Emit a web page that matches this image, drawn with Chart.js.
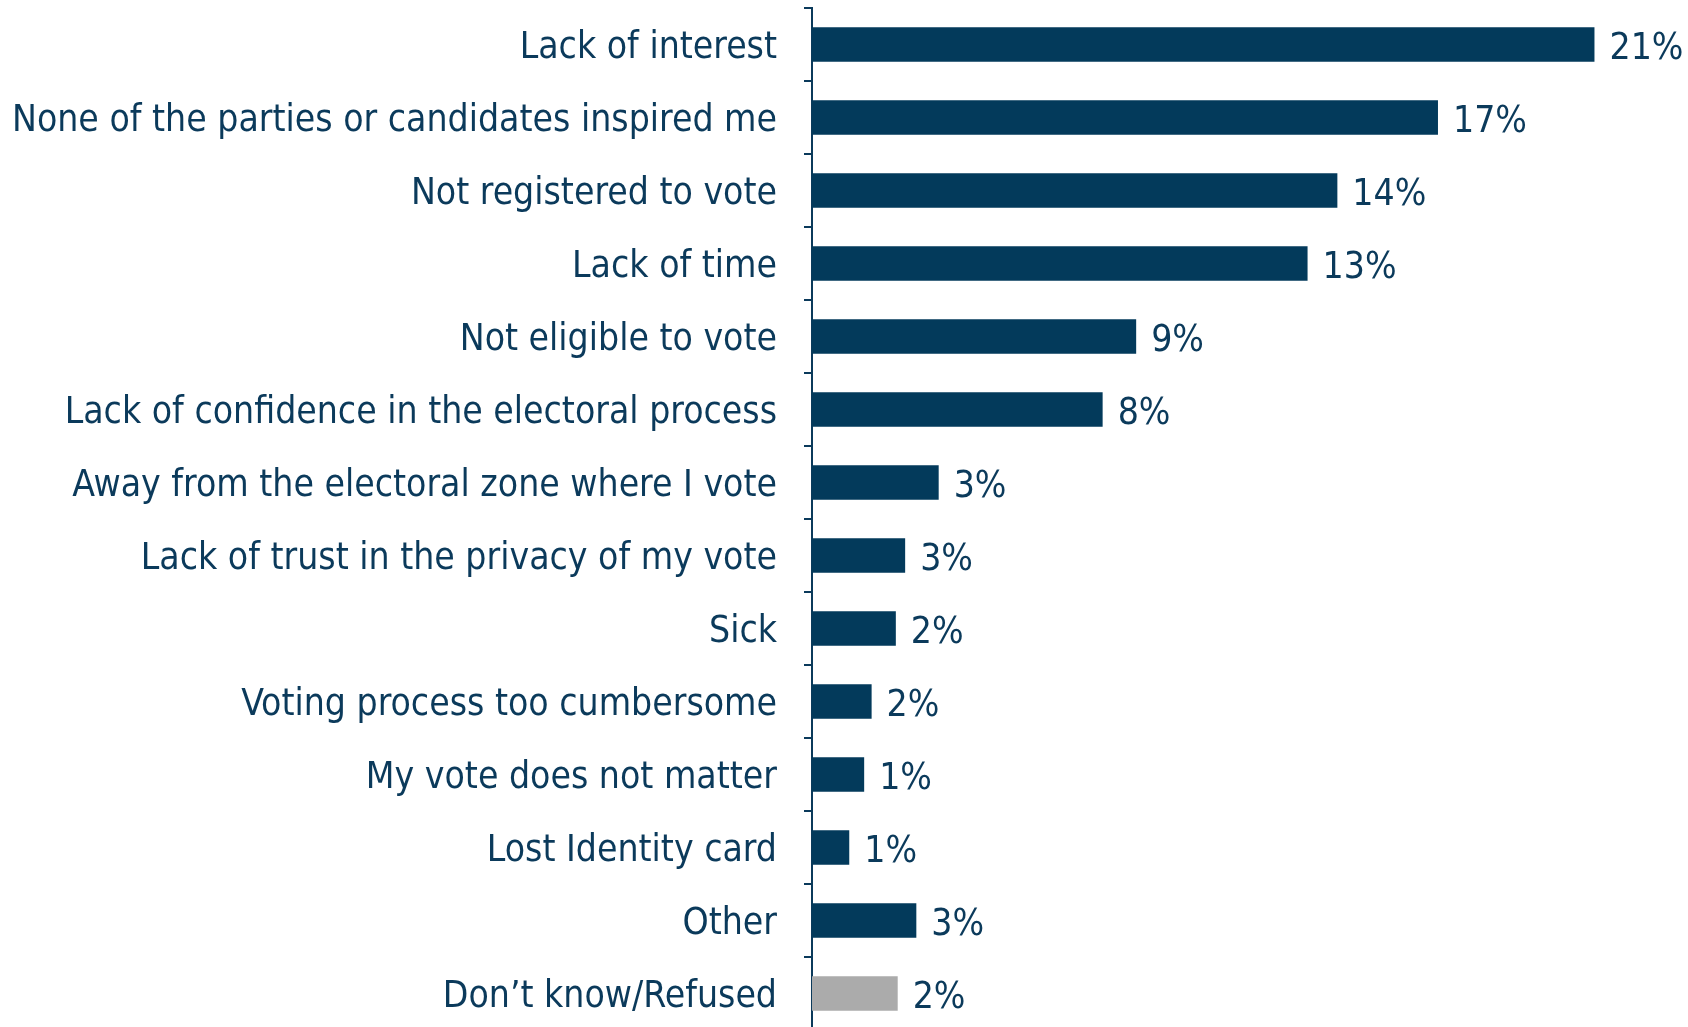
<!DOCTYPE html>
<html><head><meta charset="utf-8">
<script src="https://cdn.jsdelivr.net/npm/chart.js@4.4.1/dist/chart.umd.min.js"></script>
<style>
html,body{margin:0;padding:0;background:#fff;overflow:hidden;}
#wrap{width:1688px;height:1040px;position:relative;}
</style></head>
<body><div id="wrap"><canvas id="c"></canvas></div>
<script>
const categories = [
  "Lack of interest",
  "None of the parties or candidates inspired me",
  "Not registered to vote",
  "Lack of time",
  "Not eligible to vote",
  "Lack of confidence in the electoral process",
  "Away from the electoral zone where I vote",
  "Lack of trust in the privacy of my vote",
  "Sick",
  "Voting process too cumbersome",
  "My vote does not matter",
  "Lost Identity card",
  "Other",
  "Don\u2019t know/Refused"
];
const values = [21, 16.8, 14.1, 13.3, 8.7, 7.8, 3.4, 2.5, 2.25, 1.6, 1.4, 1.0, 2.8, 2.3];
const valueLabels = ["21%","17%","14%","13%","9%","8%","3%","3%","2%","2%","1%","1%","3%","2%"];
const barColors = ["#033a5b","#033a5b","#033a5b","#033a5b","#033a5b","#033a5b","#033a5b","#033a5b","#033a5b","#033a5b","#033a5b","#033a5b","#033a5b","#ababab"];

const NAVY = "#0b3a5b";
const FONT = "'DejaVu Sans Condensed', 'DejaVu Sans'";
const FSIZE = 37;

const valueLabelPlugin = {
  id: "valueLabels",
  afterDatasetsDraw(chart) {
    const ctx = chart.ctx;
    const meta = chart.getDatasetMeta(0);
    ctx.save();
    ctx.font = FSIZE + "px " + FONT;
    ctx.fillStyle = NAVY;
    ctx.textAlign = "left";
    ctx.textBaseline = "middle";
    meta.data.forEach((bar, i) => {
      ctx.fillText(valueLabels[i], bar.x + 15, bar.y + 5);
    });
    ctx.restore();
  }
};

new Chart(document.getElementById("c"), {
  type: "bar",
  data: {
    labels: categories,
    datasets: [{
      data: values,
      backgroundColor: barColors,
      borderWidth: 0,
      barPercentage: 0.47,
      categoryPercentage: 1.0
    }]
  },
  options: {
    indexAxis: "y",
    responsive: true,
    maintainAspectRatio: false,
    animation: false,
    layout: { padding: { top: 8, bottom: 10, left: 0, right: 60 } },
    plugins: { legend: { display: false }, tooltip: { enabled: false } },
    scales: {
      x: { display: false, min: 0, max: 21.9 },
      y: {
        afterFit(scale) { scale.width = 812; scale.paddingTop = 0; scale.paddingBottom = 0; },
        border: { display: true, color: NAVY, width: 2 },
        grid: { display: true, drawOnChartArea: false, drawTicks: true, offset: true, tickLength: 8, color: NAVY, lineWidth: 2 },
        ticks: { color: NAVY, padding: 27, labelOffset: 4, font: { family: FONT, size: FSIZE }, autoSkip: false }
      }
    }
  },
  plugins: [valueLabelPlugin]
});
</script></body></html>
